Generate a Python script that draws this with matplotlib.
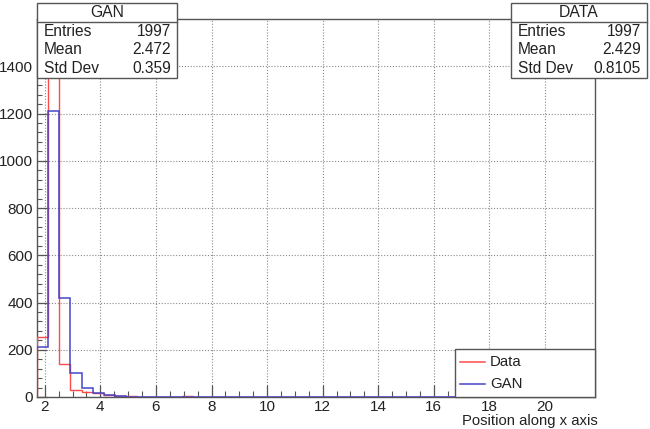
import numpy as np
import matplotlib
matplotlib.use("Agg")
import matplotlib.pyplot as plt
from matplotlib.patches import Rectangle
from matplotlib.ticker import MultipleLocator

plt.rcParams['font.family'] = ['Liberation Sans', 'DejaVu Sans']

# Histogram binning: 50 equal bins over the x range
x_low, x_high, n_bins = 1.72, 21.8, 50

# Bin contents (counts per bin), leading bins then sparse tail
data_counts = [255, 1650, 138, 30, 22, 18, 10, 5, 3, 1,
               1, 1, 0, 6, 0, 2, 0, 0, 1, 1,
               1, 1, 0, 0, 1, 0, 0, 0, 1, 0,
               0, 0, 1, 0, 0, 0, 0, 0, 0, 0,
               0, 0, 0, 0, 0, 0, 0, 0, 0, 0]
gan_counts = [213, 1209, 417, 103, 37, 16, 10, 4, 2, 1,
              1, 0, 0, 0, 0, 0, 0, 0, 0, 0,
              0, 0, 0, 0, 0, 0, 0, 0, 0, 0,
              0, 0, 0, 0, 0, 0, 0, 0, 0, 0,
              0, 0, 0, 0, 0, 0, 0, 0, 0, 0]

x_ticks = [2, 4, 6, 8, 10, 12, 14, 16, 18, 20]
y_ticks = [0, 200, 400, 600, 800, 1000, 1200, 1400]
y_max = 1600

series_names = ["Data", "GAN"]
gan_stats = [("Entries", "1997"), ("Mean", "2.472"), ("Std Dev", "0.359")]
data_stats = [("Entries", "1997"), ("Mean", "2.429"), ("Std Dev", "0.8105")]

RED = '#ff4a4a'
BLUE = '#4646c8'
FRAME = '#555555'
TXT = '#222222'

W, H = 650, 429
fig = plt.figure(figsize=(W / 100, H / 100), dpi=100)
fig.patch.set_facecolor('white')

def fx(px):
    return px / W

def fy(py):
    return 1 - py / H

ax = fig.add_axes([fx(37), fy(397), fx(595) - fx(37), fy(19) - fy(397)])

edges = np.linspace(x_low, x_high, n_bins + 1)
ax.stairs(data_counts, edges, color=RED, lw=1.0, baseline=0, zorder=3)
ax.stairs(gan_counts, edges, color=BLUE, lw=1.1, baseline=0, zorder=4)

ax.set_xlim(x_low, x_high)
ax.set_ylim(0, y_max)
ax.set_xticks(x_ticks)
ax.set_yticks(y_ticks)
ax.xaxis.set_minor_locator(MultipleLocator(0.5))
ax.yaxis.set_minor_locator(MultipleLocator(40))
ax.tick_params(axis='x', which='major', direction='in', length=9, width=0.9,
               color=FRAME, labelsize=11, pad=2.5, labelcolor=TXT)
ax.tick_params(axis='x', which='minor', direction='in', length=4, width=0.8, color=FRAME)
ax.tick_params(axis='y', which='major', direction='in', length=7, width=0.9,
               color=FRAME, labelsize=11, pad=3, labelcolor=TXT)
ax.tick_params(axis='y', which='minor', direction='in', length=3.5, width=0.8, color=FRAME)
ax.grid(True, which='major', color='#8a8a8a', linestyle=(0, (1, 1.6)), lw=0.8)
ax.set_axisbelow(True)
for s in ax.spines.values():
    s.set_color(FRAME)
    s.set_linewidth(1.0)

# Axis title, right-aligned under the end of the x axis
fig.text(fx(598), fy(421.5), "Position along x axis", ha='right', va='center',
         fontsize=10.7, color=TXT)

# Legend box sitting in the lower right corner of the frame
lx0, lx1, ly0, ly1 = 455, 595, 349, 397
fig.add_artist(Rectangle((fx(lx0), fy(ly1)), fx(lx1) - fx(lx0), fy(ly0) - fy(ly1),
                         transform=fig.transFigure, facecolor='white',
                         edgecolor=FRAME, lw=1.0, zorder=5))
for name, col, yy in zip(series_names, [RED, BLUE], [361.7, 384.3]):
    fig.add_artist(plt.Line2D([fx(460), fx(485)], [fy(yy), fy(yy)],
                              transform=fig.transFigure, color=col, lw=1.1, zorder=6))
    fig.text(fx(490), fy(yy), name, ha='left', va='center', fontsize=10.8,
             color=TXT, zorder=7)

def stat_box(left, right, title, rows):
    top, sep, bottom = 3.5, 21.5, 77.5
    fig.add_artist(Rectangle((fx(left), fy(bottom)), fx(right) - fx(left),
                             fy(top) - fy(bottom), transform=fig.transFigure,
                             facecolor='white', edgecolor=FRAME, lw=1.0, zorder=5))
    fig.add_artist(plt.Line2D([fx(left), fx(right)], [fy(sep), fy(sep)],
                              transform=fig.transFigure, color=FRAME, lw=1.0, zorder=6))
    fig.text(fx((left + right) / 2), fy((top + sep) / 2), title, ha='center',
             va='center', fontsize=11.3, color=TXT, zorder=7)
    for i, (lab, val) in enumerate(rows):
        yy = fy(31.5 + 18.3 * i)
        fig.text(fx(left + 7), yy, lab, ha='left', va='center', fontsize=11.2,
                 color=TXT, zorder=7)
        fig.text(fx(right - 6), yy, val, ha='right', va='center', fontsize=11.2,
                 color=TXT, zorder=7)

stat_box(37, 177, "GAN", gan_stats)
stat_box(511, 647, "DATA", data_stats)

fig.savefig("out.png", dpi=100)
